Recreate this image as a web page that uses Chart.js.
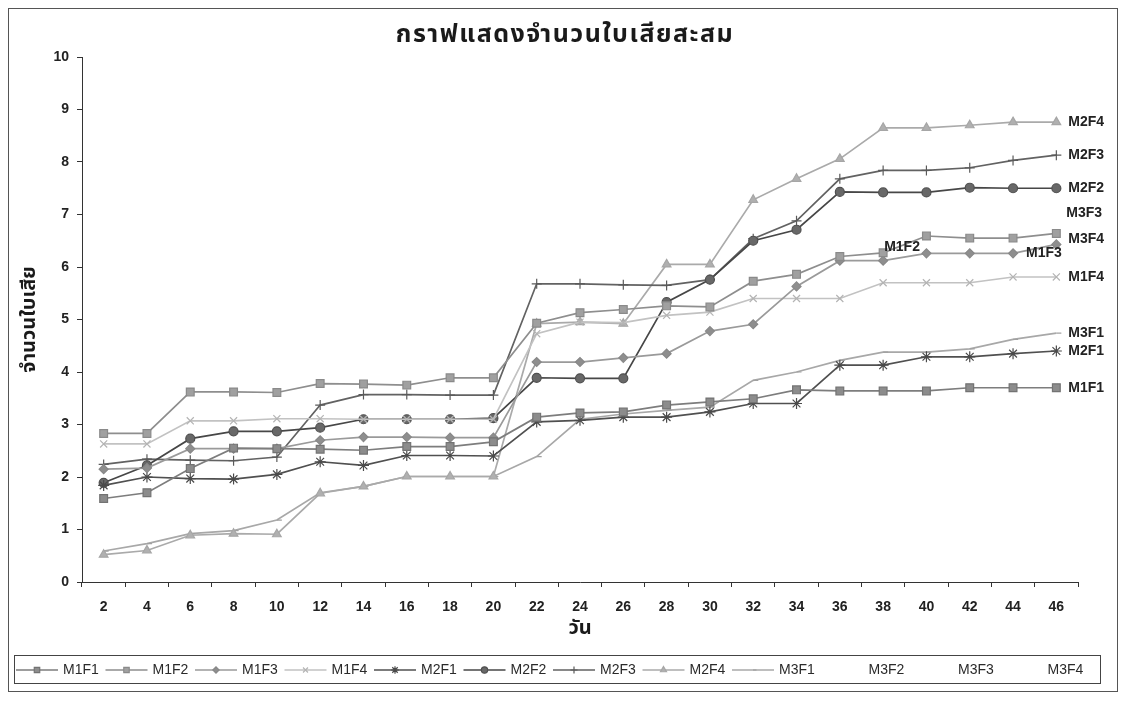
<!DOCTYPE html>
<html>
<head>
<meta charset="utf-8">
<script src="https://cdn.jsdelivr.net/npm/chart.js@4.4.1/dist/chart.umd.min.js"></script>
<style>
html,body{margin:0;padding:0;background:#ffffff;}
#wrap{width:1126px;height:702px;position:relative;}
canvas{display:block;}
</style>
</head>
<body>
<div id="wrap"><canvas id="c" width="1126" height="702"></canvas></div>
<script>
// ---------- texts ----------
const chartTitle = 'กราฟแสดงจำนวนใบเสียสะสม';
const xAxisTitle = 'วัน';
const yAxisTitle = 'จำนวนใบเสีย';

// ---------- categories / ticks ----------
const days = ['2','4','6','8','10','12','14','16','18','20','22','24','26','28','30','32','34','36','38','40','42','44','46'];
const yTickValues = [0,1,2,3,4,5,6,7,8,9,10];

// ---------- series names ----------
const seriesNames = ['M1F1','M1F2','M1F3','M1F4','M2F1','M2F2','M2F3','M2F4','M3F1','M3F2','M3F3','M3F4'];

// ---------- series values ----------
const M1F1 = [1.59,1.70,2.16,2.55,2.54,2.53,2.51,2.58,2.58,2.67,3.14,3.22,3.24,3.37,3.43,3.49,3.66,3.64,3.64,3.64,3.70,3.70,3.70];
const M1F2 = [2.83,2.83,3.62,3.62,3.61,3.78,3.77,3.75,3.89,3.89,4.93,5.13,5.19,5.26,5.24,5.73,5.86,6.20,6.27,6.59,6.55,6.55,6.64];
const M1F3 = [2.15,2.17,2.54,2.54,2.54,2.70,2.76,2.76,2.75,2.75,4.19,4.19,4.27,4.35,4.78,4.91,5.63,6.12,6.12,6.26,6.26,6.26,6.43];
const M1F4 = [2.63,2.63,3.07,3.07,3.11,3.11,3.10,3.10,3.10,3.10,4.73,4.95,4.94,5.08,5.14,5.40,5.40,5.40,5.70,5.70,5.70,5.81,5.81];
const M2F1 = [1.84,2.00,1.97,1.96,2.05,2.29,2.22,2.41,2.41,2.40,3.05,3.08,3.14,3.14,3.24,3.40,3.40,4.13,4.13,4.29,4.29,4.35,4.40];
const M2F2 = [1.89,2.22,2.73,2.87,2.87,2.94,3.10,3.10,3.10,3.12,3.89,3.88,3.88,5.33,5.76,6.50,6.71,7.43,7.42,7.42,7.51,7.50,7.50];
const M2F3 = [2.24,2.34,2.32,2.31,2.38,3.37,3.57,3.57,3.56,3.56,5.68,5.68,5.66,5.65,5.76,6.54,6.88,7.68,7.84,7.84,7.89,8.03,8.13];
const M2F4 = [0.52,0.60,0.89,0.92,0.91,1.69,1.82,2.01,2.01,2.01,4.92,4.95,4.92,6.05,6.05,7.28,7.68,8.06,8.65,8.65,8.70,8.76,8.76];
const M3F1 = [0.59,0.73,0.92,0.98,1.18,1.70,1.82,2.01,2.01,2.01,2.39,3.10,3.20,3.27,3.33,3.84,4.00,4.22,4.38,4.38,4.44,4.62,4.74];
const M3F2 = [0.55,0.66,0.90,0.95,1.06,1.70,1.80,1.95,2.00,2.05,3.60,3.80,3.95,4.10,4.20,4.40,4.55,4.70,4.80,4.85,4.90,4.95,5.00];
const M3F3 = [1.20,1.40,1.80,2.00,2.20,2.60,2.90,3.00,3.10,3.20,4.60,4.90,5.10,5.60,5.90,6.30,6.50,6.80,6.90,6.95,7.00,7.00,7.02];
const M3F4 = [1.00,1.30,1.60,1.90,2.10,2.50,2.70,2.90,3.00,3.10,4.30,4.60,4.80,5.20,5.50,5.90,6.10,6.30,6.40,6.45,6.50,6.52,6.54];

const seriesValues = [M1F1,M1F2,M1F3,M1F4,M2F1,M2F2,M2F3,M2F4,M3F1,M3F2,M3F3,M3F4];

// ---------- styles ----------
const NONE = 'rgba(255,255,255,0)';
const styles = [
  {line:'#7d7d7d', fill:'#8c8c8c', edge:'#737373', shape:'rect',     r:5.5},
  {line:'#8e8e8e', fill:'#a0a0a0', edge:'#8a8a8a', shape:'rect',     r:5.5},
  {line:'#9a9a9a', fill:'#8e8e8e', edge:'#888888', shape:'rectRot',  r:4.5},
  {line:'#c2c2c2', fill:'#bcbcbc', edge:'#b4b4b4', shape:'crossRot', r:5},
  {line:'#505050', fill:'#4a4a4a', edge:'#4a4a4a', shape:'star',     r:5.5},
  {line:'#474747', fill:'#686868', edge:'#505050', shape:'circle',   r:4.5},
  {line:'#626262', fill:'#5a5a5a', edge:'#5a5a5a', shape:'cross',    r:5},
  {line:'#aaaaaa', fill:'#b0b0b0', edge:'#a6a6a6', shape:'triangle', r:5},
  {line:'#a8a8a8', fill:'#a0a0a0', edge:'#a0a0a0', shape:'dash',     r:5},
  {line:NONE, fill:NONE, edge:NONE, shape:'circle', r:0},
  {line:NONE, fill:NONE, edge:NONE, shape:'circle', r:0},
  {line:NONE, fill:NONE, edge:NONE, shape:'circle', r:0}
];

// end labels: [series name, anchor point index, dx, dy]
const endLabels = [
  ['M2F4',22,12,0],['M2F3',22,12,0],['M2F2',22,12,0],['M3F3',22,10,0],['M3F4',22,12,0],
  ['M1F2',18,1,-6],['M1F3',21,13,0],['M1F4',22,12,0],['M3F1',22,12,0],['M2F1',22,12,0],['M1F1',22,12,0]
];

const FONT = "'Liberation Sans', Arial, sans-serif";
const THAI = "'Noto Sans Thai', Tahoma, 'Liberation Sans', Arial, sans-serif";

const datasets = seriesNames.map((name, i) => ({
  label: name,
  data: seriesValues[i],
  borderColor: styles[i].line,
  backgroundColor: styles[i].fill,
  borderWidth: 1.7,
  pointStyle: styles[i].shape,
  pointRadius: styles[i].r,
  pointHoverRadius: styles[i].r,
  pointBackgroundColor: styles[i].fill,
  pointBorderColor: styles[i].edge,
  pointBorderWidth: 1.2,
  tension: 0,
  fill: false
}));

function drawMarker(ctx, st, x, y, r) {
  if (r <= 0) return;
  ctx.fillStyle = st.fill;
  ctx.strokeStyle = st.edge;
  ctx.lineWidth = 1.2;
  if (Chart.helpers && Chart.helpers.drawPoint) {
    Chart.helpers.drawPoint(ctx, {pointStyle: st.shape, rotation: 0, radius: r, borderWidth: 1.2}, x, y);
  } else {
    ctx.beginPath(); ctx.arc(x, y, r, 0, Math.PI*2); ctx.fill(); ctx.stroke();
  }
}

const framePlugin = {
  id: 'frame',
  beforeDraw(chart) {
    const ctx = chart.ctx;
    ctx.save();
    ctx.fillStyle = '#ffffff';
    ctx.fillRect(0, 0, chart.width, chart.height);
    ctx.restore();
  },
  afterDraw(chart) {
    const ctx = chart.ctx;
    ctx.save();
    // outer frame
    ctx.strokeStyle = '#555555';
    ctx.lineWidth = 1;
    ctx.strokeRect(8.5, 8.5, 1109, 683);
    // title
    ctx.fillStyle = '#1a1a1a';
    ctx.font = "bold 25px " + THAI;
    try { ctx.letterSpacing = '1.5px'; } catch (e) {}
    ctx.textAlign = 'center';
    ctx.textBaseline = 'middle';
    ctx.fillText(chartTitle, 565, 37);
    try { ctx.letterSpacing = '0px'; } catch (e) {}
    // legend box
    ctx.strokeStyle = '#444444';
    ctx.lineWidth = 1;
    ctx.strokeRect(14.5, 655.5, 1086, 28);
    const cy = 670;
    chart.data.datasets.forEach((ds, i) => {
      const tx = 63 + 89.5 * i;
      const st = styles[i];
      ctx.strokeStyle = st.line;
      ctx.lineWidth = 1.5;
      ctx.beginPath(); ctx.moveTo(tx - 47, cy); ctx.lineTo(tx - 5, cy); ctx.stroke();
      drawMarker(ctx, st, tx - 26, cy, st.r > 0 ? st.r * 0.7 : 0);
      ctx.fillStyle = '#2a2a2a';
      ctx.font = "14px " + FONT;
      ctx.textAlign = 'left';
      ctx.textBaseline = 'middle';
      ctx.fillText(ds.label, tx, cy);
    });
    ctx.restore();
  },
  afterDatasetsDraw(chart) {
    const ctx = chart.ctx;
    ctx.save();
    ctx.fillStyle = '#222222';
    ctx.font = "bold 14px " + FONT;
    ctx.textAlign = 'left';
    ctx.textBaseline = 'middle';
    endLabels.forEach(([name, idx, dx, dy]) => {
      const di = seriesNames.indexOf(name);
      const pt = chart.getDatasetMeta(di).data[idx];
      if (pt) ctx.fillText(name, pt.x + dx, pt.y + dy);
    });
    ctx.restore();
  }
};

new Chart(document.getElementById('c'), {
  type: 'line',
  data: { labels: days, datasets },
  plugins: [framePlugin],
  options: {
    responsive: false,
    animation: false,
    devicePixelRatio: 1,
    layout: { padding: { left: 12, right: 48, top: 57, bottom: 50 } },
    plugins: {
      legend: { display: false },
      title: { display: false },
      tooltip: { enabled: false }
    },
    scales: {
      x: {
        type: 'category',
        offset: true,
        afterFit(scale) { scale.height = 70; },
        grid: { display: true, drawOnChartArea: false, drawTicks: true, tickLength: 5, offset: true, color: '#333333' },
        border: { display: true, color: '#333333', width: 1 },
        ticks: { color: '#222222', font: { family: FONT, size: 14, weight: 'bold' }, padding: 12, maxRotation: 0, autoSkip: false },
        title: { display: true, text: xAxisTitle, color: '#1a1a1a', font: { family: THAI, size: 20, weight: 'bold' }, padding: { top: 0, bottom: 10 } }
      },
      y: {
        min: 0, max: 10,
        afterFit(scale) { scale.width = 70; },
        afterBuildTicks(scale) { scale.ticks = yTickValues.map(v => ({ value: v })); },
        grid: { display: true, drawOnChartArea: false, drawTicks: true, tickLength: 5, color: '#333333' },
        border: { display: true, color: '#333333', width: 1 },
        ticks: { color: '#222222', font: { family: FONT, size: 14, weight: 'bold' }, padding: 8 },
        title: { display: true, text: yAxisTitle, color: '#1a1a1a', font: { family: THAI, size: 20, weight: 'bold' }, padding: { top: 7, bottom: 0 } }
      }
    }
  }
});
</script>
</body>
</html>
